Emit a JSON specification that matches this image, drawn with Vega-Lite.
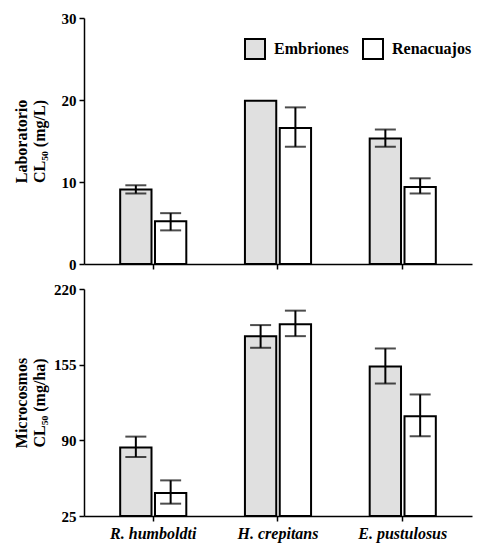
{
  "$schema": "https://vega.github.io/schema/vega-lite/v6.json",
  "padding": {"left": 13, "top": 11, "right": 5, "bottom": 5},
  "background": "white",
  "spacing": 10,
  "config": {
    "view": {"stroke": null},
    "font": "'Liberation Serif', 'Times New Roman', serif",
    "axis": {
      "domainColor": "black", "domainWidth": 1.5, "tickColor": "black", "tickWidth": 1.5,
      "tickSize": 5, "grid": false, "labelFont": "'Liberation Serif', 'Times New Roman', serif", "labelFontWeight": "bold",
      "labelFontSize": 15, "labelColor": "black", "titleFont": "'Liberation Serif', 'Times New Roman', serif",
      "titleFontWeight": "bold", "titleFontSize": 16, "titleColor": "black"
    },
    "legend": {"labelFont": "'Liberation Serif', 'Times New Roman', serif"}
  },
  "datasets": {
    "lab": [
      {"species": "R. humboldti", "stage": "Embriones", "value": 9.1, "lo": 8.6, "hi": 9.6},
      {"species": "R. humboldti", "stage": "Renacuajos", "value": 5.2, "lo": 4.1, "hi": 6.2},
      {"species": "H. crepitans", "stage": "Embriones", "value": 19.9, "lo": null, "hi": null},
      {"species": "H. crepitans", "stage": "Renacuajos", "value": 16.6, "lo": 14.3, "hi": 19.1},
      {"species": "E. pustulosus", "stage": "Embriones", "value": 15.3, "lo": 14.3, "hi": 16.4},
      {"species": "E. pustulosus", "stage": "Renacuajos", "value": 9.4, "lo": 8.6, "hi": 10.45}
    ],
    "micro": [
      {"species": "R. humboldti", "stage": "Embriones", "value": 83.8, "lo": 75.7, "hi": 93.2},
      {"species": "R. humboldti", "stage": "Renacuajos", "value": 44.8, "lo": 35.6, "hi": 55.6},
      {"species": "H. crepitans", "stage": "Embriones", "value": 179.5, "lo": 169.5, "hi": 189},
      {"species": "H. crepitans", "stage": "Renacuajos", "value": 189.8, "lo": 179.5, "hi": 201.4},
      {"species": "E. pustulosus", "stage": "Embriones", "value": 153.4, "lo": 138.8, "hi": 168.9},
      {"species": "E. pustulosus", "stage": "Renacuajos", "value": 110.7, "lo": 93.5, "hi": 129.4}
    ]
  },
  "vconcat": [
    {
      "width": 388, "height": 246,
      "data": {"name": "lab"},
      "encoding": {
        "x": {"field": "species", "type": "nominal", "sort": null,
              "scale": {"paddingInner": 0.47, "paddingOuter": 0.29},
              "axis": {"labels": false, "title": null}},
        "xOffset": {"field": "stage", "type": "nominal", "scale": {"paddingInner": 0.1}}
      },
      "layer": [
        {
          "mark": {"type": "bar", "stroke": "black", "strokeWidth": 2},
          "encoding": {
            "y": {"field": "value", "type": "quantitative",
                  "scale": {"domain": [0, 30], "nice": false},
                  "axis": {"values": [0, 10, 20, 30], "title": ["Laboratorio", "CL₅₀ (mg/L)"],
                           "titlePadding": 14, "labelPadding": 3}},
            "fill": {"field": "stage", "type": "nominal",
                     "scale": {"domain": ["Embriones", "Renacuajos"], "range": ["#e0e0e0", "#ffffff"]},
                     "legend": {"title": null, "orient": "none", "direction": "horizontal",
                                "legendX": 160, "legendY": 20, "symbolType": "square", "symbolSize": 400,
                                "symbolStrokeColor": "black", "symbolStrokeWidth": 2,
                                "labelFontWeight": "bold",
                                "labelFontSize": 16, "labelColor": "black", "columnPadding": 10,
                                "labelOffset": 8}}
          }
        },
        {
          "mark": {"type": "rule", "color": "black", "strokeWidth": 2},
          "encoding": {"y": {"field": "lo", "type": "quantitative"}, "y2": {"field": "hi"}}
        },
        {
          "mark": {"type": "tick", "color": "black", "thickness": 2, "size": 21},
          "encoding": {"y": {"field": "lo", "type": "quantitative"}}
        },
        {
          "mark": {"type": "tick", "color": "black", "thickness": 2, "size": 21},
          "encoding": {"y": {"field": "hi", "type": "quantitative"}}
        }
      ]
    },
    {
      "width": 388, "height": 227,
      "data": {"name": "micro"},
      "encoding": {
        "x": {"field": "species", "type": "nominal", "sort": null,
              "scale": {"paddingInner": 0.47, "paddingOuter": 0.29},
              "axis": {"title": null, "labelAngle": 0, "labelFontStyle": "italic", "labelFontSize": 16, "labelPadding": 4}},
        "xOffset": {"field": "stage", "type": "nominal", "scale": {"paddingInner": 0.1}}
      },
      "layer": [
        {
          "mark": {"type": "bar", "stroke": "black", "strokeWidth": 2},
          "encoding": {
            "y": {"field": "value", "type": "quantitative",
                  "scale": {"domain": [25, 220], "nice": false, "zero": false},
                  "axis": {"values": [25, 90, 155, 220], "title": ["Microcosmos", "CL₅₀ (mg/ha)"],
                           "titlePadding": 6, "labelPadding": 3}},
            "y2": {"datum": 25},
            "fill": {"field": "stage", "type": "nominal",
                     "scale": {"domain": ["Embriones", "Renacuajos"], "range": ["#e0e0e0", "#ffffff"]},
                     "legend": null}
          }
        },
        {
          "mark": {"type": "rule", "color": "black", "strokeWidth": 2},
          "encoding": {"y": {"field": "lo", "type": "quantitative"}, "y2": {"field": "hi"}}
        },
        {
          "mark": {"type": "tick", "color": "black", "thickness": 2, "size": 21},
          "encoding": {"y": {"field": "lo", "type": "quantitative"}}
        },
        {
          "mark": {"type": "tick", "color": "black", "thickness": 2, "size": 21},
          "encoding": {"y": {"field": "hi", "type": "quantitative"}}
        }
      ]
    }
  ]
}
